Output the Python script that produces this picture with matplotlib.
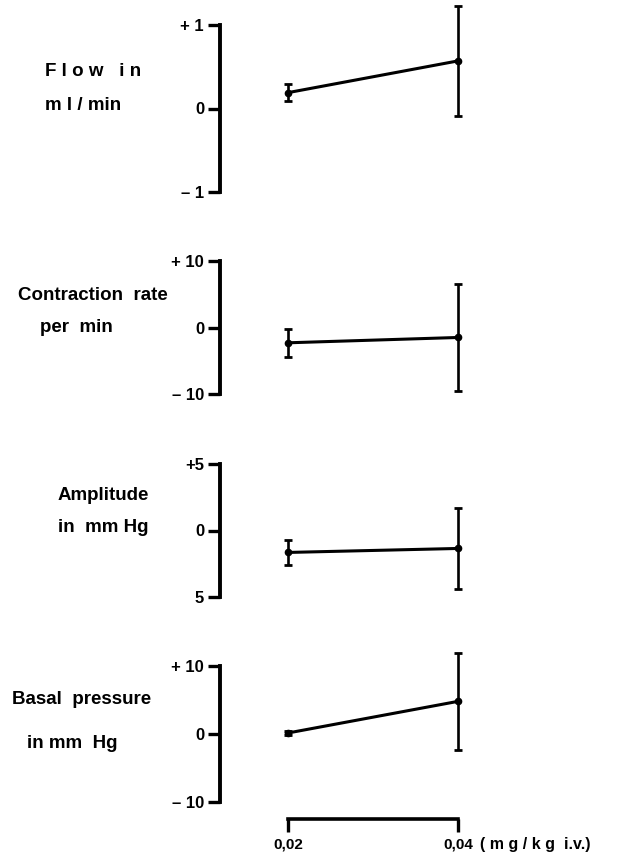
import numpy as np
import matplotlib
matplotlib.use("Agg")
import matplotlib.pyplot as plt

plt.rcParams['font.family'] = ['Liberation Sans', 'DejaVu Sans']
plt.rcParams['font.weight'] = 'bold'

# doses (mg/kg i.v.)
dose = [0.02, 0.04]
dose_labels = ['0,02', '0,04']

# changes: mean and error bar half-length
flow_mean = [0.19, 0.57]
flow_err = [0.10, 0.66]
rate_mean = [-2.3, -1.5]
rate_err = [2.1, 8.1]
ampl_mean = [-1.65, -1.35]
ampl_err = [0.95, 3.05]
basal_mean = [0.15, 4.8]
basal_err = [0.3, 7.1]

flow_ticks = [1, 0, -1]
flow_ticklabels = ['+ 1', '0', '– 1']
rate_ticks = [10, 0, -10]
rate_ticklabels = ['+ 10', '0', '– 10']
ampl_ticks = [5, 0, -5]
ampl_ticklabels = ['+5', '0', '5']
basal_ticks = [10, 0, -10]
basal_ticklabels = ['+ 10', '0', '– 10']

W, H = 620, 859
fig = plt.figure(figsize=(W / 100, H / 100), dpi=100)


def px_axes(left, top, right, bottom):
    return fig.add_axes([left / W, 1 - bottom / H, (right - left) / W, (bottom - top) / H])


# x range so that 0.02 sits at ~288 px and 0.04 at ~458 px
xlim = (0.02 - 68 / 170 * 0.02, 0.04 + 62 / 170 * 0.02)

panels = [
    (25, 192, flow_mean, flow_err, flow_ticks, flow_ticklabels),
    (261, 394, rate_mean, rate_err, rate_ticks, rate_ticklabels),
    (464, 597, ampl_mean, ampl_err, ampl_ticks, ampl_ticklabels),
    (666, 802, basal_mean, basal_err, basal_ticks, basal_ticklabels),
]

for top, bottom, mean, err, ticks, ticklabels in panels:
    ax = px_axes(220, top, 520, bottom)
    cont = ax.errorbar(dose, mean, yerr=err, color='black', lw=2.2, elinewidth=1.9,
                       capsize=3, capthick=2.0, marker='o', ms=4.5)
    for a in cont.get_children():
        a.set_clip_on(False)
    ax.set_xlim(*xlim)
    ax.set_ylim(min(ticks), max(ticks))
    for s in ['top', 'right', 'bottom']:
        ax.spines[s].set_visible(False)
    ax.spines['left'].set_linewidth(2.8)
    ax.set_xticks([])
    ax.set_yticks(ticks)
    ax.set_yticklabels(ticklabels, fontsize=12, fontweight='bold')
    ax.tick_params(axis='y', direction='out', length=8.5, width=2.4, pad=3)
    ax.patch.set_alpha(0)

# dose axis at the bottom
axd = px_axes(220, 790, 520, 819)
axd.set_xlim(*xlim)
for s in ['top', 'right', 'left']:
    axd.spines[s].set_visible(False)
axd.spines['bottom'].set_bounds(dose[0], dose[1])
axd.spines['bottom'].set_linewidth(2.6)
axd.set_yticks([])
axd.set_xticks(dose)
axd.set_xticklabels(dose_labels, fontsize=11, fontweight='bold')
axd.tick_params(axis='x', direction='out', length=9.5, width=2.4, pad=4)
axd.patch.set_alpha(0)
fig.text(480 / W, 1 - 845 / H, '( m g / k g  i.v.)', ha='left', va='center',
         fontsize=11.5, fontweight='bold')

# row titles on the left
lab = dict(fontsize=13.5, fontweight='bold', va='center')
fig.text(45 / W, 1 - 71 / H, 'F l o w   i n', ha='left', **lab)
fig.text(45 / W, 1 - 105 / H, 'm l / min', ha='left', **lab)
fig.text(93 / W, 1 - 295 / H, 'Contraction  rate', ha='center', **lab)
fig.text(76 / W, 1 - 328 / H, 'per  min', ha='center', **lab)
fig.text(103 / W, 1 - 495 / H, 'Amplitude', ha='center', **lab)
fig.text(103 / W, 1 - 528 / H, 'in  mm Hg', ha='center', **lab)
fig.text(82 / W, 1 - 700 / H, 'Basal  pressure', ha='center', **lab)
fig.text(72 / W, 1 - 743 / H, 'in mm  Hg', ha='center', **lab)

fig.savefig('out.png', dpi=100)
